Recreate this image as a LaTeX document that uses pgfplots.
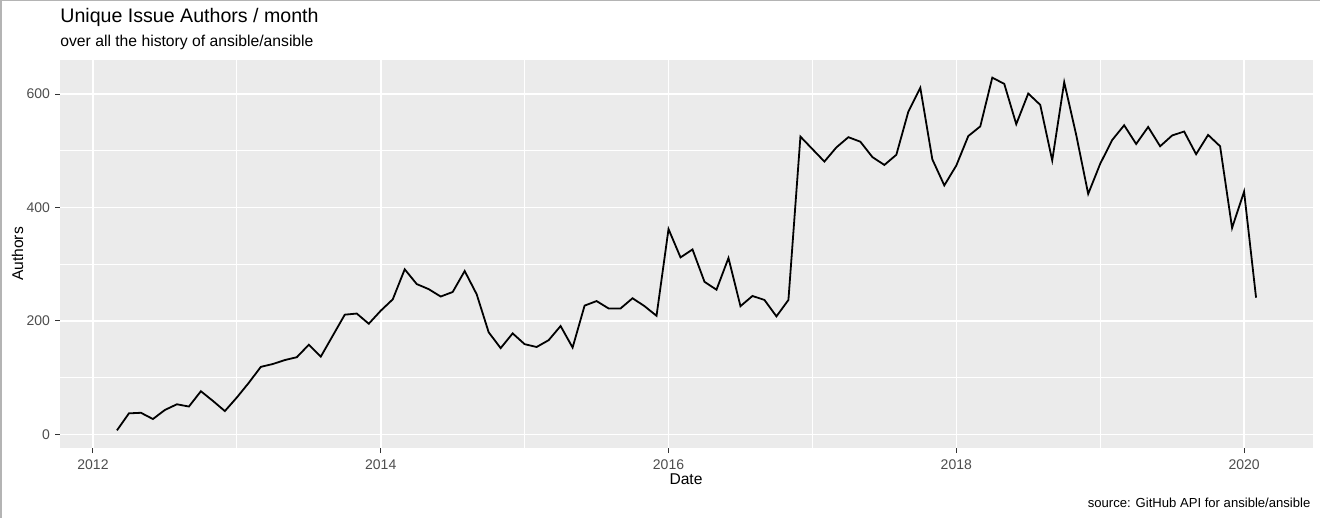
\documentclass[border=0pt]{standalone}
\usepackage{pgfplots}
\pgfplotsset{compat=1.18}
\usepackage{fontspec}
\setmainfont{Liberation Sans}
\definecolor{panelbg}{HTML}{EBEBEB}
\definecolor{ticktext}{HTML}{4D4D4D}
\definecolor{tickmark}{HTML}{333333}
\definecolor{framegray}{HTML}{B4B4B4}

% months since Jan 2012 vs unique issue authors
\pgfplotstableread{
m a
2 7
3 37
4 38
5 27
6 43
7 53
8 49
9 76
10 59
11 41
12 65
13 91
14 119
15 124
16 131
17 136
18 158
19 137
20 174
21 211
22 213
23 195
24 218
25 238
26 291
27 265
28 256
29 243
30 251
31 288
32 247
33 180
34 152
35 178
36 159
37 154
38 166
39 191
40 153
41 227
42 235
43 222
44 222
45 240
46 226
47 209
48 362
49 312
50 326
51 269
52 255
53 311
54 226
55 244
56 237
57 208
58 237
59 525
60 503
61 481
62 506
63 524
64 516
65 489
66 475
67 493
68 569
69 611
70 485
71 439
72 474
73 526
74 543
75 629
76 618
77 547
78 601
79 581
80 483
81 621
82 528
83 424
84 477
85 519
86 545
87 512
88 542
89 508
90 527
91 534
92 494
93 528
94 508
95 364
96 428
97 241
}\authors

\begin{document}
\begin{tikzpicture}
\begin{axis}[
  at={(0pt,0pt)}, anchor=south west,
  width=626.5pt, height=194pt, scale only axis,
  xmin=-2.75, xmax=101.75, ymin=-24.1, ymax=660.1,
  axis background/.style={fill=panelbg},
  axis line style={draw=none},
  xtick={0,24,48,72,96}, xticklabels={2012,2014,2016,2018,2020},
  minor xtick={12,36,60,84},
  ytick={0,200,400,600}, minor ytick={100,300,500},
  grid=both,
  major grid style={white, line width=0.8pt},
  minor grid style={white, line width=0.4pt},
  tick align=outside, tick pos=left,
  major tick length=2.5pt, minor tick length=0pt,
  tick style={tickmark, line width=0.5pt},
  ticklabel style={font=\fontsize{7}{8}\selectfont, text=ticktext},
  yticklabel style={xshift=1pt},
  /pgf/number format/assume math mode=true,
  /pgf/number format/1000 sep={},
]
\addplot[black, line width=0.9pt, mark=none] table[x=m, y=a] {\authors};
\end{axis}
\node[anchor=base west, inner sep=0pt, font=\fontsize{9.8}{11}\selectfont] at (0pt,212.5pt) {Unique Issue Authors / month};
\node[anchor=base west, inner sep=0pt, font=\fontsize{7.85}{9}\selectfont] at (0pt,200.5pt) {over all the history of ansible/ansible};
\node[anchor=base, inner sep=0pt, font=\fontsize{7.8}{9}\selectfont] at (313pt,-18.5pt) {Date};
\node[anchor=base, rotate=90, inner sep=0pt, font=\fontsize{7.8}{9}\selectfont] at (-18.5pt,97pt) {Authors};
\node[anchor=base east, inner sep=0pt, font=\fontsize{6.55}{7}\selectfont] at (625.4pt,-30pt) {source: GitHub API for ansible/ansible};
\draw[framegray, line width=1pt] (-29.5pt,-35pt) -- (-29.5pt,224pt);
\draw[framegray, line width=0.5pt] (-30pt,223.75pt) -- (630pt,223.75pt);
\pgfresetboundingbox
\path[use as bounding box] (-30pt,-35pt) rectangle (630pt,224pt);
\end{tikzpicture}
\end{document}
